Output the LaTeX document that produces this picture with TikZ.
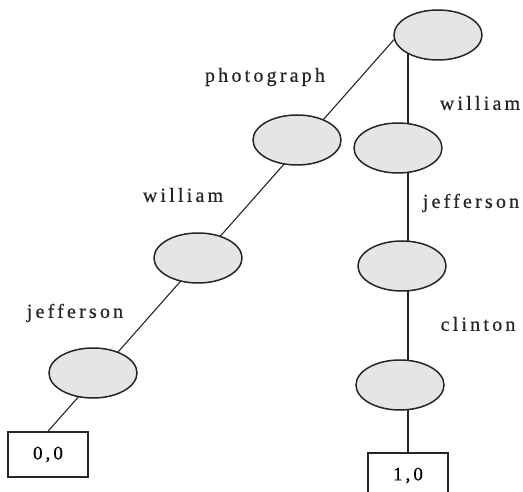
\documentclass[tikz,border=0pt]{standalone}
\usepackage{fontspec}
\setmainfont{Liberation Serif}
\newfontfamily\labelfont[LetterSpace=16,FakeBold=0.6]{Liberation Serif}
\usetikzlibrary{shapes.geometric,backgrounds}
\tikzset{
  state/.style={ellipse, draw=black!85, line width=1.5pt, fill=black!10,
    minimum width=88pt, minimum height=50pt, inner sep=0pt},
  leafbox/.style={rectangle, draw=black!85, line width=1.4pt, fill=white,
    minimum width=80pt, minimum height=45pt, inner sep=0pt,
    font=\labelfont\fontsize{19}{22}\selectfont},
  edgelabel/.style={font=\labelfont\fontsize{20}{24}\selectfont, text=black!85,
    inner sep=0pt},
  edge/.style={draw=black!85, line width=1.1pt},
  trunk/.style={draw=black!85, line width=1.6pt}
}
\begin{document}
\begin{tikzpicture}[x=1pt, y=-1pt]
  \useasboundingbox (0,0) rectangle (523,492);

  % trie nodes
  \node[state] (root) at (438,35) {};
  \node[state] (photo) at (297,140) {};
  \node[state] (wilL) at (198,258) {};
  \node[state] (jefL) at (93,373) {};
  \node[leafbox] (leafA) at (48,454.5) {0,0};

  \node[state] (wilR) at (398,148) {};
  \node[state] (jefR) at (402,266) {};
  \node[state] (clin) at (400,385) {};
  \node[leafbox] (leafB) at (408,475.5) {1,0};

  % branches, drawn behind the nodes
  \begin{pgfonlayer}{background}
    \draw[edge] (leafA.north) -- (root.186);
    \draw[trunk] (leafB.north) -- (leafB.north |- root.center);
  \end{pgfonlayer}

  % edge labels
  \node[edgelabel] (lphoto) at (265,77) {photograph};
  \node[edgelabel] (lwilL) at (183,195) {william};
  \node[edgelabel] (ljefL) at (75,313) {jefferson};
  \node[edgelabel] (lwilR) at (480,103) {william};
  \node[edgelabel] (ljefR) at (471,203) {jefferson};
  \node[edgelabel] (lclin) at (478,324) {clinton};
\end{tikzpicture}
\end{document}
